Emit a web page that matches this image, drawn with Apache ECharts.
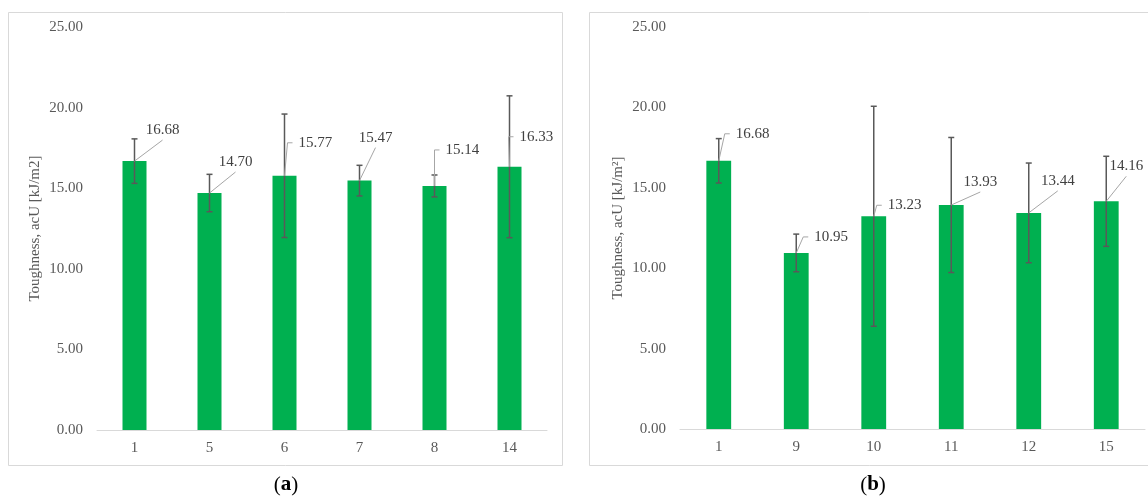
<!DOCTYPE html>
<html>
<head>
<meta charset="utf-8">
<script src="https://cdn.jsdelivr.net/npm/echarts@6/dist/echarts.min.js"></script>
<style>
  html, body { margin: 0; padding: 0; background: #ffffff; }
  #chart { width: 1148px; height: 497px; }
</style>
</head>
<body>
<div id="chart"></div>
<script>
// Panel (a): samples 1, 5, 6, 7, 8, 14
const categoriesA = ['1', '5', '6', '7', '8', '14'];
const toughnessA = [16.68, 14.70, 15.77, 15.47, 15.14, 16.33];
const errorA = [1.38, 1.16, 3.83, 0.95, 0.68, 4.40];

// Panel (b): samples 1, 9, 10, 11, 12, 15
const categoriesB = ['1', '9', '10', '11', '12', '15'];
const toughnessB = [16.68, 10.95, 13.23, 13.93, 13.44, 14.16];
const errorB = [1.38, 1.17, 6.84, 4.20, 3.10, 2.80];

const yTicks = [0, 5, 10, 15, 20, 25];

// Label placement: [dx, dy, anchor side] relative to the top of each bar
const labelPlaceA = [[28, -31, 'b'], [26, -31, 'b'], [14, -33, 'l'], [16, -43, 'b'], [11, -36, 'l'], [10, -30, 'l']];
const labelPlaceB = [[17, -27, 'l'], [18, -16, 'l'], [14, -11, 'l'], [29, -23, 'b'], [29, -32, 'b'], [20, -35, 'b']];

const SERIF = '"Liberation Serif", "Times New Roman", serif';
const GREEN = '#00b050';

function errorAndLabels(place) {
  return function (params, api) {
    const i = api.value(0), v = api.value(1), e = api.value(2);
    const top = api.coord([i, v]);
    const hi = api.coord([i, v + e]);
    const lo = api.coord([i, v - e]);
    const cap = 3;
    const errStyle = { stroke: '#595959', lineWidth: 1.5 };
    const leadStyle = { stroke: '#a6a6a6', lineWidth: 1, fill: null };
    const p = place[params.dataIndex];
    const lx = top[0] + p[0], ly = top[1] + p[1];
    const children = [
      { type: 'line', shape: { x1: hi[0], y1: hi[1], x2: lo[0], y2: lo[1] }, style: errStyle },
      { type: 'line', shape: { x1: hi[0] - cap, y1: hi[1], x2: hi[0] + cap, y2: hi[1] }, style: errStyle },
      { type: 'line', shape: { x1: lo[0] - cap, y1: lo[1], x2: lo[0] + cap, y2: lo[1] }, style: errStyle }
    ];
    const label = v.toFixed(2);
    if (p[2] === 'b') {
      children.push({ type: 'polyline', shape: { points: [top, [lx, ly + 10]] }, style: leadStyle });
      children.push({ type: 'text', x: lx, y: ly, style: { text: label, font: '15px ' + SERIF, fill: '#404040', align: 'center', verticalAlign: 'middle' } });
    } else {
      children.push({ type: 'polyline', shape: { points: [top, [lx - 11, ly], [lx - 6, ly]] }, style: leadStyle });
      children.push({ type: 'text', x: lx, y: ly, style: { text: label, font: '15px ' + SERIF, fill: '#404040', align: 'left', verticalAlign: 'middle' } });
    }
    return { type: 'group', children: children };
  };
}

function xAxisCfg(cats, gridIndex) {
  return {
    type: 'category', gridIndex: gridIndex, data: cats,
    axisLine: { lineStyle: { color: '#d9d9d9', width: 1 } },
    axisTick: { show: false },
    axisLabel: { color: '#595959', fontFamily: SERIF, fontSize: 15, margin: 11 }
  };
}

function yAxisCfg(name, gridIndex) {
  return {
    type: 'value', gridIndex: gridIndex, min: yTicks[0], max: yTicks[yTicks.length - 1], interval: 5,
    name: name, nameLocation: 'middle', nameGap: 54,
    nameTextStyle: { color: '#595959', fontFamily: SERIF, fontSize: 15 },
    axisLine: { show: false }, axisTick: { show: false }, splitLine: { show: false },
    axisLabel: { color: '#595959', fontFamily: SERIF, fontSize: 15, margin: 14, formatter: v => v.toFixed(2) }
  };
}

const chart = echarts.init(document.getElementById('chart'), null, { renderer: 'canvas' });
chart.setOption({
  animation: false,
  backgroundColor: '#ffffff',
  grid: [
    { left: 97, right: 601, top: 27, bottom: 67 },
    { left: 680, right: 3, top: 27, bottom: 68 }
  ],
  xAxis: [xAxisCfg(categoriesA, 0), xAxisCfg(categoriesB, 1)],
  yAxis: [yAxisCfg('Toughness, acU [kJ/m2]', 0), yAxisCfg('Toughness, acU [kJ/m²]', 1)],
  series: [
    { type: 'bar', xAxisIndex: 0, yAxisIndex: 0, data: toughnessA, barWidth: '32%', itemStyle: { color: GREEN }, silent: true },
    { type: 'bar', xAxisIndex: 1, yAxisIndex: 1, data: toughnessB, barWidth: '32%', itemStyle: { color: GREEN }, silent: true },
    { type: 'custom', xAxisIndex: 0, yAxisIndex: 0, clip: false, z: 5,
      data: toughnessA.map((v, i) => [i, v, errorA[i]]), renderItem: errorAndLabels(labelPlaceA) },
    { type: 'custom', xAxisIndex: 1, yAxisIndex: 1, clip: false, z: 5,
      data: toughnessB.map((v, i) => [i, v, errorB[i]]), renderItem: errorAndLabels(labelPlaceB) }
  ],
  graphic: [
    { type: 'rect', shape: { x: 8.5, y: 12.5, width: 554, height: 453 }, style: { fill: null, stroke: '#d9d9d9', lineWidth: 1 }, silent: true },
    { type: 'rect', shape: { x: 589.5, y: 12.5, width: 600, height: 453 }, style: { fill: null, stroke: '#d9d9d9', lineWidth: 1 }, silent: true },
    { type: 'text', x: 286, y: 485, style: { text: '{p|(}{b|a}{p|)}', align: 'center', verticalAlign: 'middle',
        rich: { p: { font: '21px ' + SERIF, fill: '#000' }, b: { font: 'bold 21px ' + SERIF, fill: '#000' } } } },
    { type: 'text', x: 873, y: 485, style: { text: '{p|(}{b|b}{p|)}', align: 'center', verticalAlign: 'middle',
        rich: { p: { font: '21px ' + SERIF, fill: '#000' }, b: { font: 'bold 21px ' + SERIF, fill: '#000' } } } }
  ]
});
</script>
</body>
</html>
